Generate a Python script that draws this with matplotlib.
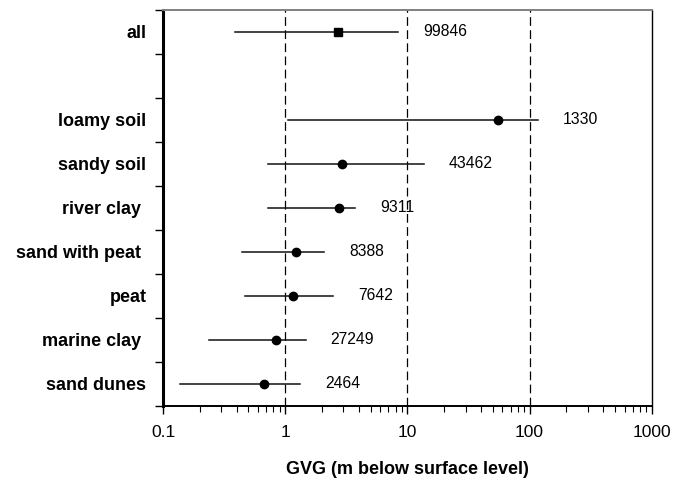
import numpy as np
import matplotlib
matplotlib.use("Agg")
import matplotlib.pyplot as plt

plt.rcParams['font.family'] = ['Liberation Sans', 'DejaVu Sans']

# data (GVG, m below surface level)
categories = ["all", "", "loamy soil", "sandy soil", "river clay ",
              "sand with peat ", "peat", "marine clay ", "sand dunes"]
median = [2.72, np.nan, 55.5, 2.93, 2.77, 1.225, 1.165, 0.84, 0.674]
low = [0.388, np.nan, 1.06, 0.728, 0.728, 0.443, 0.469, 0.237, 0.138]
high = [8.43, np.nan, 117, 13.7, 3.73, 2.09, 2.48, 1.47, 1.32]
counts = ["99846", "", "1330", "43462", "9311", "8388", "7642", "27249", "2464"]
xticks = [0.1, 1, 10, 100, 1000]
xticklabels = ["0.1", "1", "10", "100", "1000"]

fig = plt.figure(figsize=(6.87, 4.79), dpi=100)
ax = fig.add_axes([163/687, 1-406/479, (651.7-163)/687, (406-10)/479])

n = len(categories)
ypos = np.arange(n) + 0.5

for g in [1, 10, 100]:
    ax.axvline(g, color='black', lw=0.9, ls=(0, (7, 3.5)), zorder=1)

for i in range(n):
    if np.isnan(median[i]):
        continue
    ax.plot([low[i], high[i]], [ypos[i], ypos[i]], color='#111111', lw=1.1, zorder=2)
    mk = 's' if i == 0 else 'o'
    ax.plot(median[i], ypos[i], marker=mk, ms=6, color='black', zorder=3)
    ax.annotate(counts[i], (high[i], ypos[i]), xytext=(18, 0),
                textcoords='offset points', va='center', ha='left', fontsize=11.3)

ax.set_xscale('log')
ax.set_xlim(0.1, 1000)
ax.set_ylim(n, 0)
ax.set_xticks(xticks)
ax.set_xticklabels(xticklabels, fontsize=12.5)
ax.tick_params(axis='x', which='major', direction='out', length=6, width=1, pad=7.5)
ax.tick_params(axis='x', which='minor', direction='out', length=4, width=0.8)

ax.set_yticks(np.arange(n + 1))
ax.set_yticklabels([])
ax.set_yticks(ypos, minor=True)
ax.set_yticklabels(categories, minor=True, fontsize=13, fontweight='bold')
ax.tick_params(axis='y', which='major', direction='out', length=6, width=1)
ax.tick_params(axis='y', which='minor', length=0, pad=12)

ax.set_xlabel("GVG (m below surface level)", fontsize=13, fontweight='bold', labelpad=15)

ax.spines['left'].set_linewidth(2.2)
ax.spines['bottom'].set_linewidth(1.4)
ax.spines['top'].set_color('#808080')
ax.spines['top'].set_linewidth(1.4)
ax.spines['right'].set_linewidth(1.0)

fig.savefig("out.png", dpi=100)
